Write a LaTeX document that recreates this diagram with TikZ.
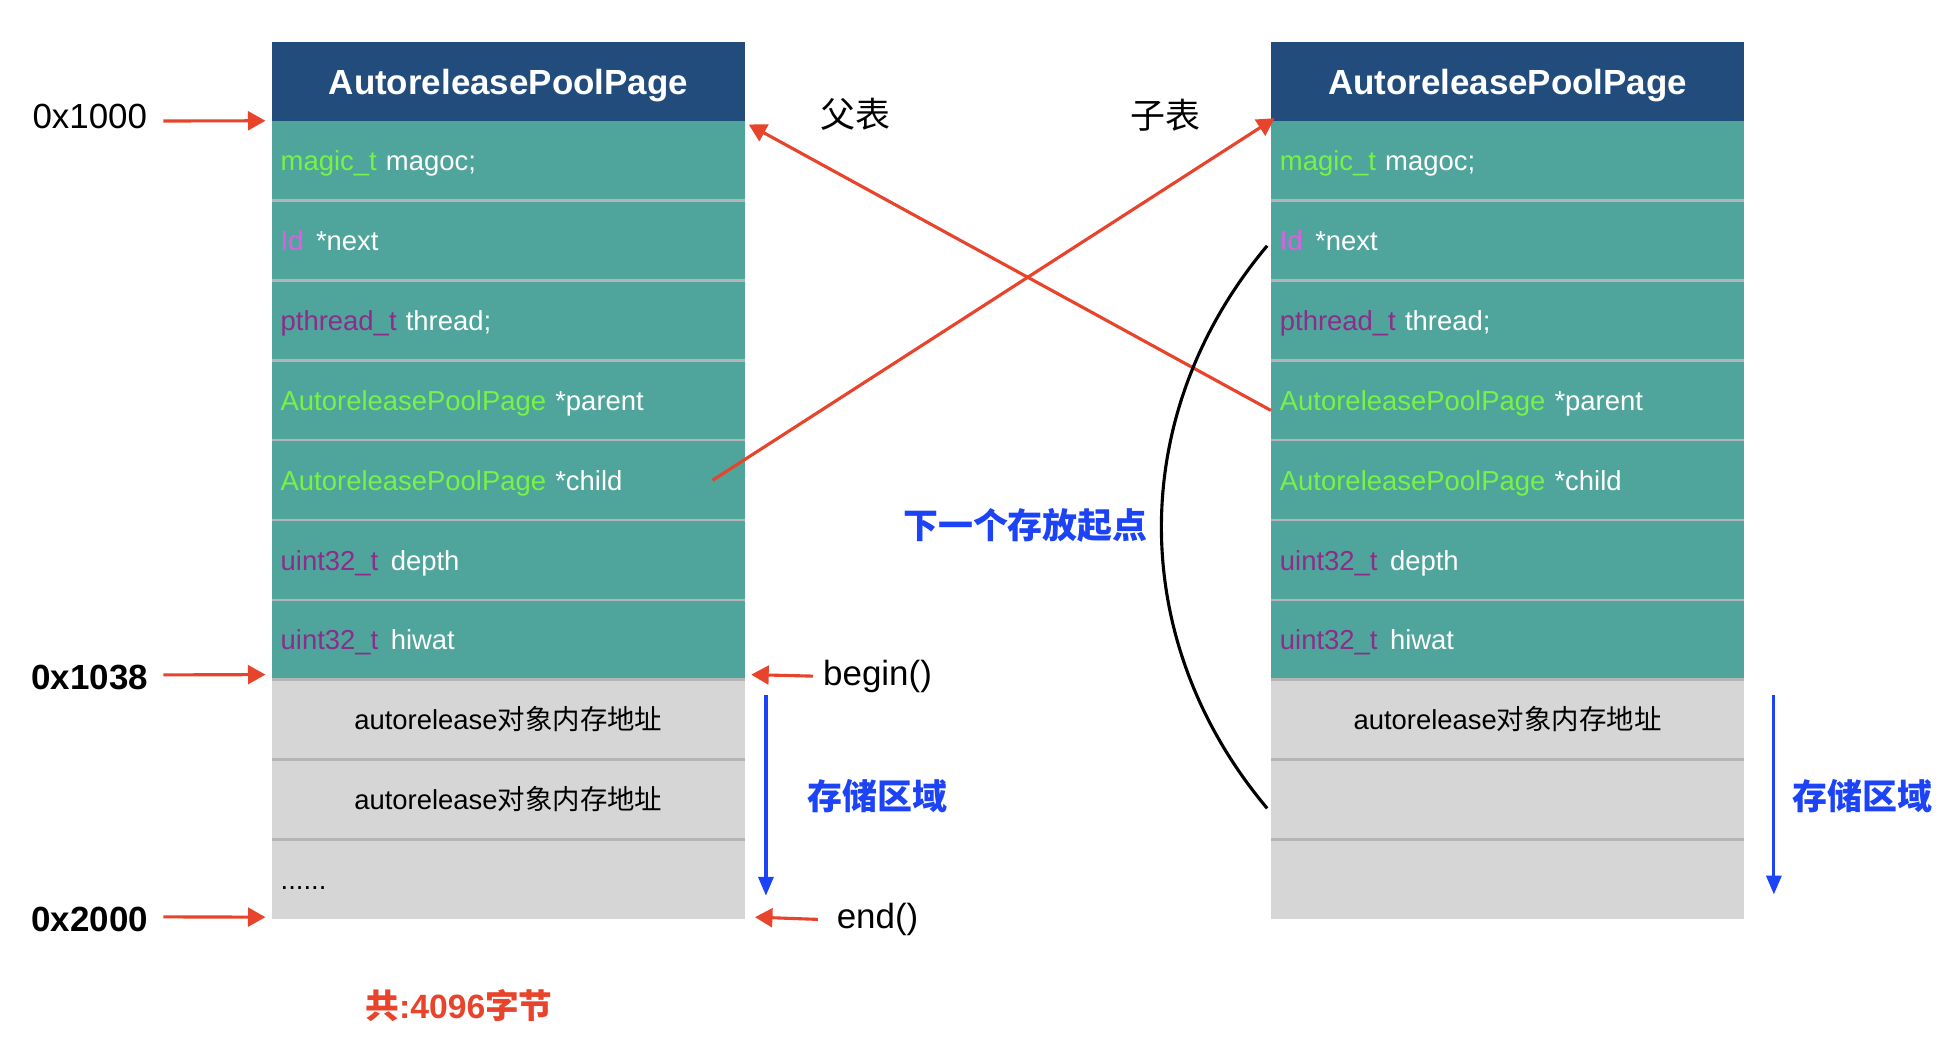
\documentclass[tikz,border=0pt]{standalone}
\usepackage{fontspec}
\setmainfont{Liberation Sans}
\newfontfamily\cjk{Noto Sans CJK SC}
\usetikzlibrary{arrows.meta}
\definecolor{hdrblue}{HTML}{214C7C}
\definecolor{tealc}{HTML}{4FA59C}
\definecolor{grayc}{HTML}{D6D6D6}
\definecolor{sepc}{HTML}{B5B5B5}
\definecolor{redc}{HTML}{E8432B}
\definecolor{bluec}{HTML}{1C43F5}
\definecolor{greenc}{HTML}{79F247}
\definecolor{pinkc}{HTML}{E45BE8}
\definecolor{purplec}{HTML}{8B2D89}
\newcommand\fgreen[1]{\textcolor{greenc}{#1}}
\newcommand\fpink[1]{\textcolor{pinkc}{#1}}
\newcommand\fpurple[1]{\textcolor{purplec}{#1}}
\tikzset{
  hdr/.style={fill=hdrblue, text=white, font=\fontsize{28}{32}\selectfont\bfseries, minimum width=379pt, minimum height=63pt, inner sep=0pt, text depth=0pt},
  fld/.style={fill=tealc, text=white, font=\fontsize{22}{26}\selectfont, text width=365pt, inner xsep=7pt, inner ysep=0pt, minimum height=64pt, align=left, text height=16pt, text depth=0pt},
  gcell/.style={fill=grayc, text=black, font=\fontsize{22}{26}\selectfont, minimum width=379pt, minimum height=64pt, inner sep=0pt, text height=16pt, text depth=0pt},
  gleft/.style={gcell, text width=365pt, inner xsep=7pt, align=left},
  sepline/.style={draw=sepc, line width=2pt},
  redarr/.style={draw=redc, line width=2.5pt, -{Triangle[length=14pt,width=15pt]}},
  bluearr/.style={draw=bluec, line width=2.5pt, -{Triangle[length=15pt,width=12pt]}},
  lab/.style={inner sep=0pt, font=\fontsize{28}{32}\selectfont},
  cjklab/.style={inner sep=0pt, font=\fontsize{28}{32}\selectfont\cjk},
  curveline/.style={draw=black, line width=2.5pt},
}
\newcommand\maketable[5]{%
  \node[hdr] (#1-0) at (#2,65.5) {AutoreleasePoolPage};
  \node[fld] (#1-1) at (#2,129) {\fgreen{magic\_t} magoc;};
  \node[fld] (#1-2) at (#2,193) {\fpink{Id}\hspace{10pt}*next};
  \node[fld] (#1-3) at (#2,257) {\fpurple{pthread\_t} thread;};
  \node[fld] (#1-4) at (#2,321) {\fgreen{AutoreleasePoolPage} *parent};
  \node[fld] (#1-5) at (#2,385) {\fgreen{AutoreleasePoolPage} *child};
  \node[fld] (#1-6) at (#2,449) {\fpurple{uint32\_t}\hspace{10pt}depth};
  \node[fld] (#1-7) at (#2,513) {\fpurple{uint32\_t}\hspace{10pt}hiwat};
  \node[gcell] (#1-8) at (#2,577) {#3};
  \node[gcell] (#1-9) at (#2,641) {#4};
  \node[gleft] (#1-10) at (#2,705) {#5};
  \foreach \i in {2,...,10} {\draw[sepline] (#1-\i.north west) -- (#1-\i.north east);}
}
\begin{document}
\begin{tikzpicture}[x=1pt,y=-1pt]
\useasboundingbox (0,0) rectangle (1568,838.5);
\fill[white] (0,0) rectangle (1568,838.5);

\maketable{L}{407.5}{autorelease{\cjk 对象内存地址}}{autorelease{\cjk 对象内存地址}}{......}
\maketable{R}{1208.5}{autorelease{\cjk 对象内存地址}}{}{}

% address labels
\node[lab] (a1000) at (72,93) {0x1000};
\node[lab, font=\fontsize{28}{32}\selectfont\bfseries] (a1038) at (72,543) {0x1038};
\node[lab, font=\fontsize{28}{32}\selectfont\bfseries] (a2000) at (72,737) {0x2000};
\coordinate (s1000) at (131,97);
\coordinate (s1038) at (131,541);
\coordinate (s2000) at (131,735);
\draw[redarr] (s1000) -- ([xshift=-5pt]L-1.north west);
\draw[redarr] (s1038) -- ([xshift=-5pt,yshift=4pt]L-8.north west);
\draw[redarr] (s2000) -- ([xshift=-5pt,yshift=2pt]L-10.south west);

% begin / end
\node[lab] (beg) at (703.5,542) {begin()};
\node[lab] (endn) at (703.5,737) {end()};
\draw[redarr] ([xshift=-8pt]beg.west) -- ([xshift=5pt,yshift=4pt]L-8.north east);
\draw[redarr] ([xshift=-15pt]endn.west) -- ([xshift=8pt,yshift=2pt]L-10.south east);

% storage arrows
\coordinate (bs1) at (614,557);
\coordinate (be1) at (614,718);
\draw[bluearr] (bs1) -- (be1);
\node[cjklab, text=bluec, font=\fontsize{28}{32}\selectfont\cjk\bfseries] (st1) at (703.5,638) {存储区域};
\coordinate (bs2) at (1422,557);
\coordinate (be2) at (1422,717);
\draw[bluearr] (bs2) -- (be2);
\node[cjklab, text=bluec, font=\fontsize{28}{32}\selectfont\cjk\bfseries] (st2) at (1493,638) {存储区域};

% parent / child labels
\node[cjklab] (fu) at (686,92) {父表};
\node[cjklab] (zi) at (934,92) {子表};

% cross pointers
\draw[redarr] ([yshift=-8pt]R-4.west) -- ([xshift=3pt,yshift=-3pt]L-1.north east);
\draw[redarr] ([xshift=-26pt]L-5.east) -- ([xshift=3pt,yshift=2pt]R-1.north west);

% next pointer curve
\draw[curveline] ([xshift=-3pt,yshift=-4pt]R-2.west) to[bend right=40] ([xshift=-3pt,yshift=-7pt]R-9.west);
\node[cjklab, text=bluec, font=\fontsize{28}{32}\selectfont\cjk\bfseries] (nx) at (822,421) {下一个存放起点};

% total
\node[inner sep=0pt, text=redc, font=\fontsize{27}{32}\selectfont\bfseries] (tot) at (368,806) {{\cjk 共}:4096{\cjk 字节}};
\end{tikzpicture}
\end{document}
